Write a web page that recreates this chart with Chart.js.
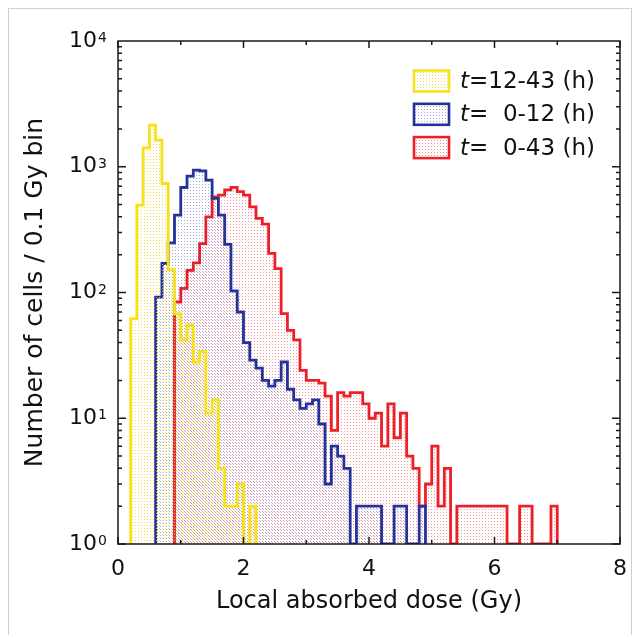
<!DOCTYPE html>
<html><head><meta charset="utf-8">
<script src="https://cdn.jsdelivr.net/npm/chart.js@4.4.1/dist/chart.umd.min.js"></script>
<style>
html,body{margin:0;padding:0;background:#fff;}
#wrap{position:relative;width:639px;height:635px;overflow:hidden;}
#frame{position:absolute;left:8px;top:8px;width:624px;height:660px;border:1px solid #cfcfcf;box-sizing:border-box;pointer-events:none;}
</style></head>
<body><div id="wrap"><canvas id="c" width="639" height="635"></canvas><div id="frame"></div></div>
<script>
// ---- data ----
const binWidth = 0.1;                       // Gy per bin
const xTickValues = [0, 2, 4, 6, 8];
const yMin = 1, yMax = 10000;
const legendPrefix = 't';
const legendSuffixes = ['=12-43 (h)', '=  0-12 (h)', '=  0-43 (h)'];
const seriesLabels = ['t=12-43 (h)', 't=  0-12 (h)', 't=  0-43 (h)'];

const yellowStart = 0.2;   // t = 12-43 h
const yellowCounts = [62,495,1414,2140,1627,736,152,68,42,55,28,34,11,14,4,2,2,3,1,2];

const blueStart = 0.6;     // t = 0-12 h
const blueCounts = [92,170,248,412,684,842,940,928,782,560,412,241,103,70,40,29,25,20,18,20,
                    28,17,14,12,13,14,9,3,6,5,4,1,2,2,2,2,1,1,2,2,1,1,2];

const redStart = 0.9;      // t = 0-43 h
const redCounts = [84,108,150,172,245,400,577,595,655,685,635,595,480,388,350,205,155,68,50,42,
                   24,20,20,19,15,8,16,15,16,16,13,10,11,6,13,7,11,5,4,2,3,6,2,4,1,
                   2,2,2,2,2,2,2,2,1,1,2,2,1,1,1,2];

// ---- helpers ----
function toSteps(start, counts) {
  const pts = [{x: start, y: yMin}];
  counts.forEach((c, i) => pts.push({x: start + i * binWidth, y: c}));
  pts.push({x: start + counts.length * binWidth, y: yMin});
  return pts;
}
function dotPattern(color, ox, oy) {
  const c = document.createElement('canvas');
  c.width = 3; c.height = 3;
  const g = c.getContext('2d');
  g.fillStyle = color;
  g.fillRect(ox, oy, 1, 1);
  return g.createPattern(c, 'repeat');
}

const colors = ['#f7e21a', '#24329a', '#ee2027'];
const patterns = [
  dotPattern('rgba(240,215,0,0.75)', 0, 0),
  dotPattern('rgba(40,60,170,0.45)', 1, 1),
  dotPattern('rgba(240,40,50,0.5)', 2, 2)
];
const starts = [yellowStart, blueStart, redStart];
const countsList = [yellowCounts, blueCounts, redCounts];

const FONT = "'DejaVu Sans', sans-serif";

// ---- plugin: frame, inner ticks, y labels, legend ----
const decor = {
  id: 'decor',
  afterDatasetsDraw(chart) {
    const {ctx, chartArea: a, scales: {x, y}} = chart;
    ctx.save();
    ctx.strokeStyle = '#1a1a1a';
    ctx.lineWidth = 1.5;
    const xt = x.ticks.map(t => t.value);
    const xMinor = [];
    for (let i = 0; i < xt.length - 1; i++) xMinor.push((xt[i] + xt[i + 1]) / 2);
    ctx.beginPath();
    xt.forEach(v => { const p = x.getPixelForValue(v);
      ctx.moveTo(p, a.bottom); ctx.lineTo(p, a.bottom - 7);
      ctx.moveTo(p, a.top); ctx.lineTo(p, a.top + 7); });
    xMinor.forEach(v => { const p = x.getPixelForValue(v);
      ctx.moveTo(p, a.bottom); ctx.lineTo(p, a.bottom - 4);
      ctx.moveTo(p, a.top); ctx.lineTo(p, a.top + 4); });
    for (let d = yMin; d < yMax; d *= 10) {
      for (let m = 1; m <= 9; m++) {
        const p = y.getPixelForValue(d * m);
        const len = m === 1 ? 8 : 4;
        ctx.moveTo(a.left, p); ctx.lineTo(a.left + len, p);
        ctx.moveTo(a.right, p); ctx.lineTo(a.right - len, p);
      }
    }
    ctx.stroke();
    ctx.strokeRect(a.left, a.top, a.right - a.left, a.bottom - a.top);

    // y labels 10^n
    ctx.fillStyle = '#111';
    for (let d = yMin, e = 0; d <= yMax; d *= 10, e++) {
      const p = y.getPixelForValue(d);
      ctx.font = '22px ' + FONT;
      ctx.textAlign = 'right'; ctx.textBaseline = 'middle';
      ctx.fillText('10', a.left - 21, p);
      ctx.font = '14px ' + FONT;
      ctx.textAlign = 'left'; ctx.textBaseline = 'alphabetic';
      ctx.fillText(String(e), a.left - 20, p + 1);
    }

    // legend
    const bx = a.left + 296, bw = 35, bh = 21, rowH = 33.3;
    chart.data.datasets.forEach((ds, i) => {
      const cy = a.top + 40 + i * rowH;
      ctx.fillStyle = '#fff';
      ctx.fillRect(bx, cy - bh / 2, bw, bh);
      ctx.fillStyle = patterns[i];
      ctx.fillRect(bx, cy - bh / 2, bw, bh);
      ctx.lineWidth = 2.6;
      ctx.strokeStyle = colors[i];
      ctx.strokeRect(bx, cy - bh / 2, bw, bh);
      ctx.fillStyle = '#111';
      ctx.textAlign = 'left'; ctx.textBaseline = 'middle';
      ctx.font = 'italic 23px ' + FONT;
      const tx = bx + bw + 11;
      ctx.fillText(legendPrefix, tx, cy + 1);
      const w = ctx.measureText(legendPrefix).width;
      ctx.font = '23px ' + FONT;
      ctx.fillText(legendSuffixes[i], tx + w, cy + 1);
    });
    ctx.restore();
  }
};

const datasets = countsList.map((counts, i) => ({
  label: seriesLabels[i],
  data: toSteps(starts[i], counts),
  stepped: 'before',
  borderColor: colors[i],
  borderWidth: 2.8,
  backgroundColor: patterns[i],
  fill: 'start',
  pointRadius: 0,
  tension: 0
}));

new Chart(document.getElementById('c'), {
  type: 'line',
  data: {datasets},
  options: {
    responsive: false,
    animation: false,
    devicePixelRatio: 1,
    layout: {padding: {top: 41, right: 15, bottom: 0, left: 0}},
    plugins: {legend: {display: false}, tooltip: {enabled: false}},
    scales: {
      x: {
        type: 'linear', min: 0, max: 8,
        afterBuildTicks: s => { s.ticks = xTickValues.map(v => ({value: v})); },
        ticks: {font: {family: FONT, size: 22}, color: '#111', padding: 12, callback: v => String(v)},
        grid: {display: false, drawTicks: false},
        border: {display: false},
        title: {display: true, text: 'Local absorbed dose (Gy)', font: {family: FONT, size: 24}, color: '#111', padding: {top: 0, bottom: 19}},
        afterFit: s => { s.height = 91; }
      },
      y: {
        type: 'logarithmic', min: yMin, max: yMax,
        ticks: {display: false},
        grid: {display: false, drawTicks: false},
        border: {display: false},
        title: {display: true, text: 'Number of cells / 0.1 Gy bin', font: {family: FONT, size: 25}, color: '#111', padding: {top: 20, bottom: 0}},
        afterFit: s => { s.width = 118; }
      }
    }
  },
  plugins: [decor]
});
</script>
</body></html>
